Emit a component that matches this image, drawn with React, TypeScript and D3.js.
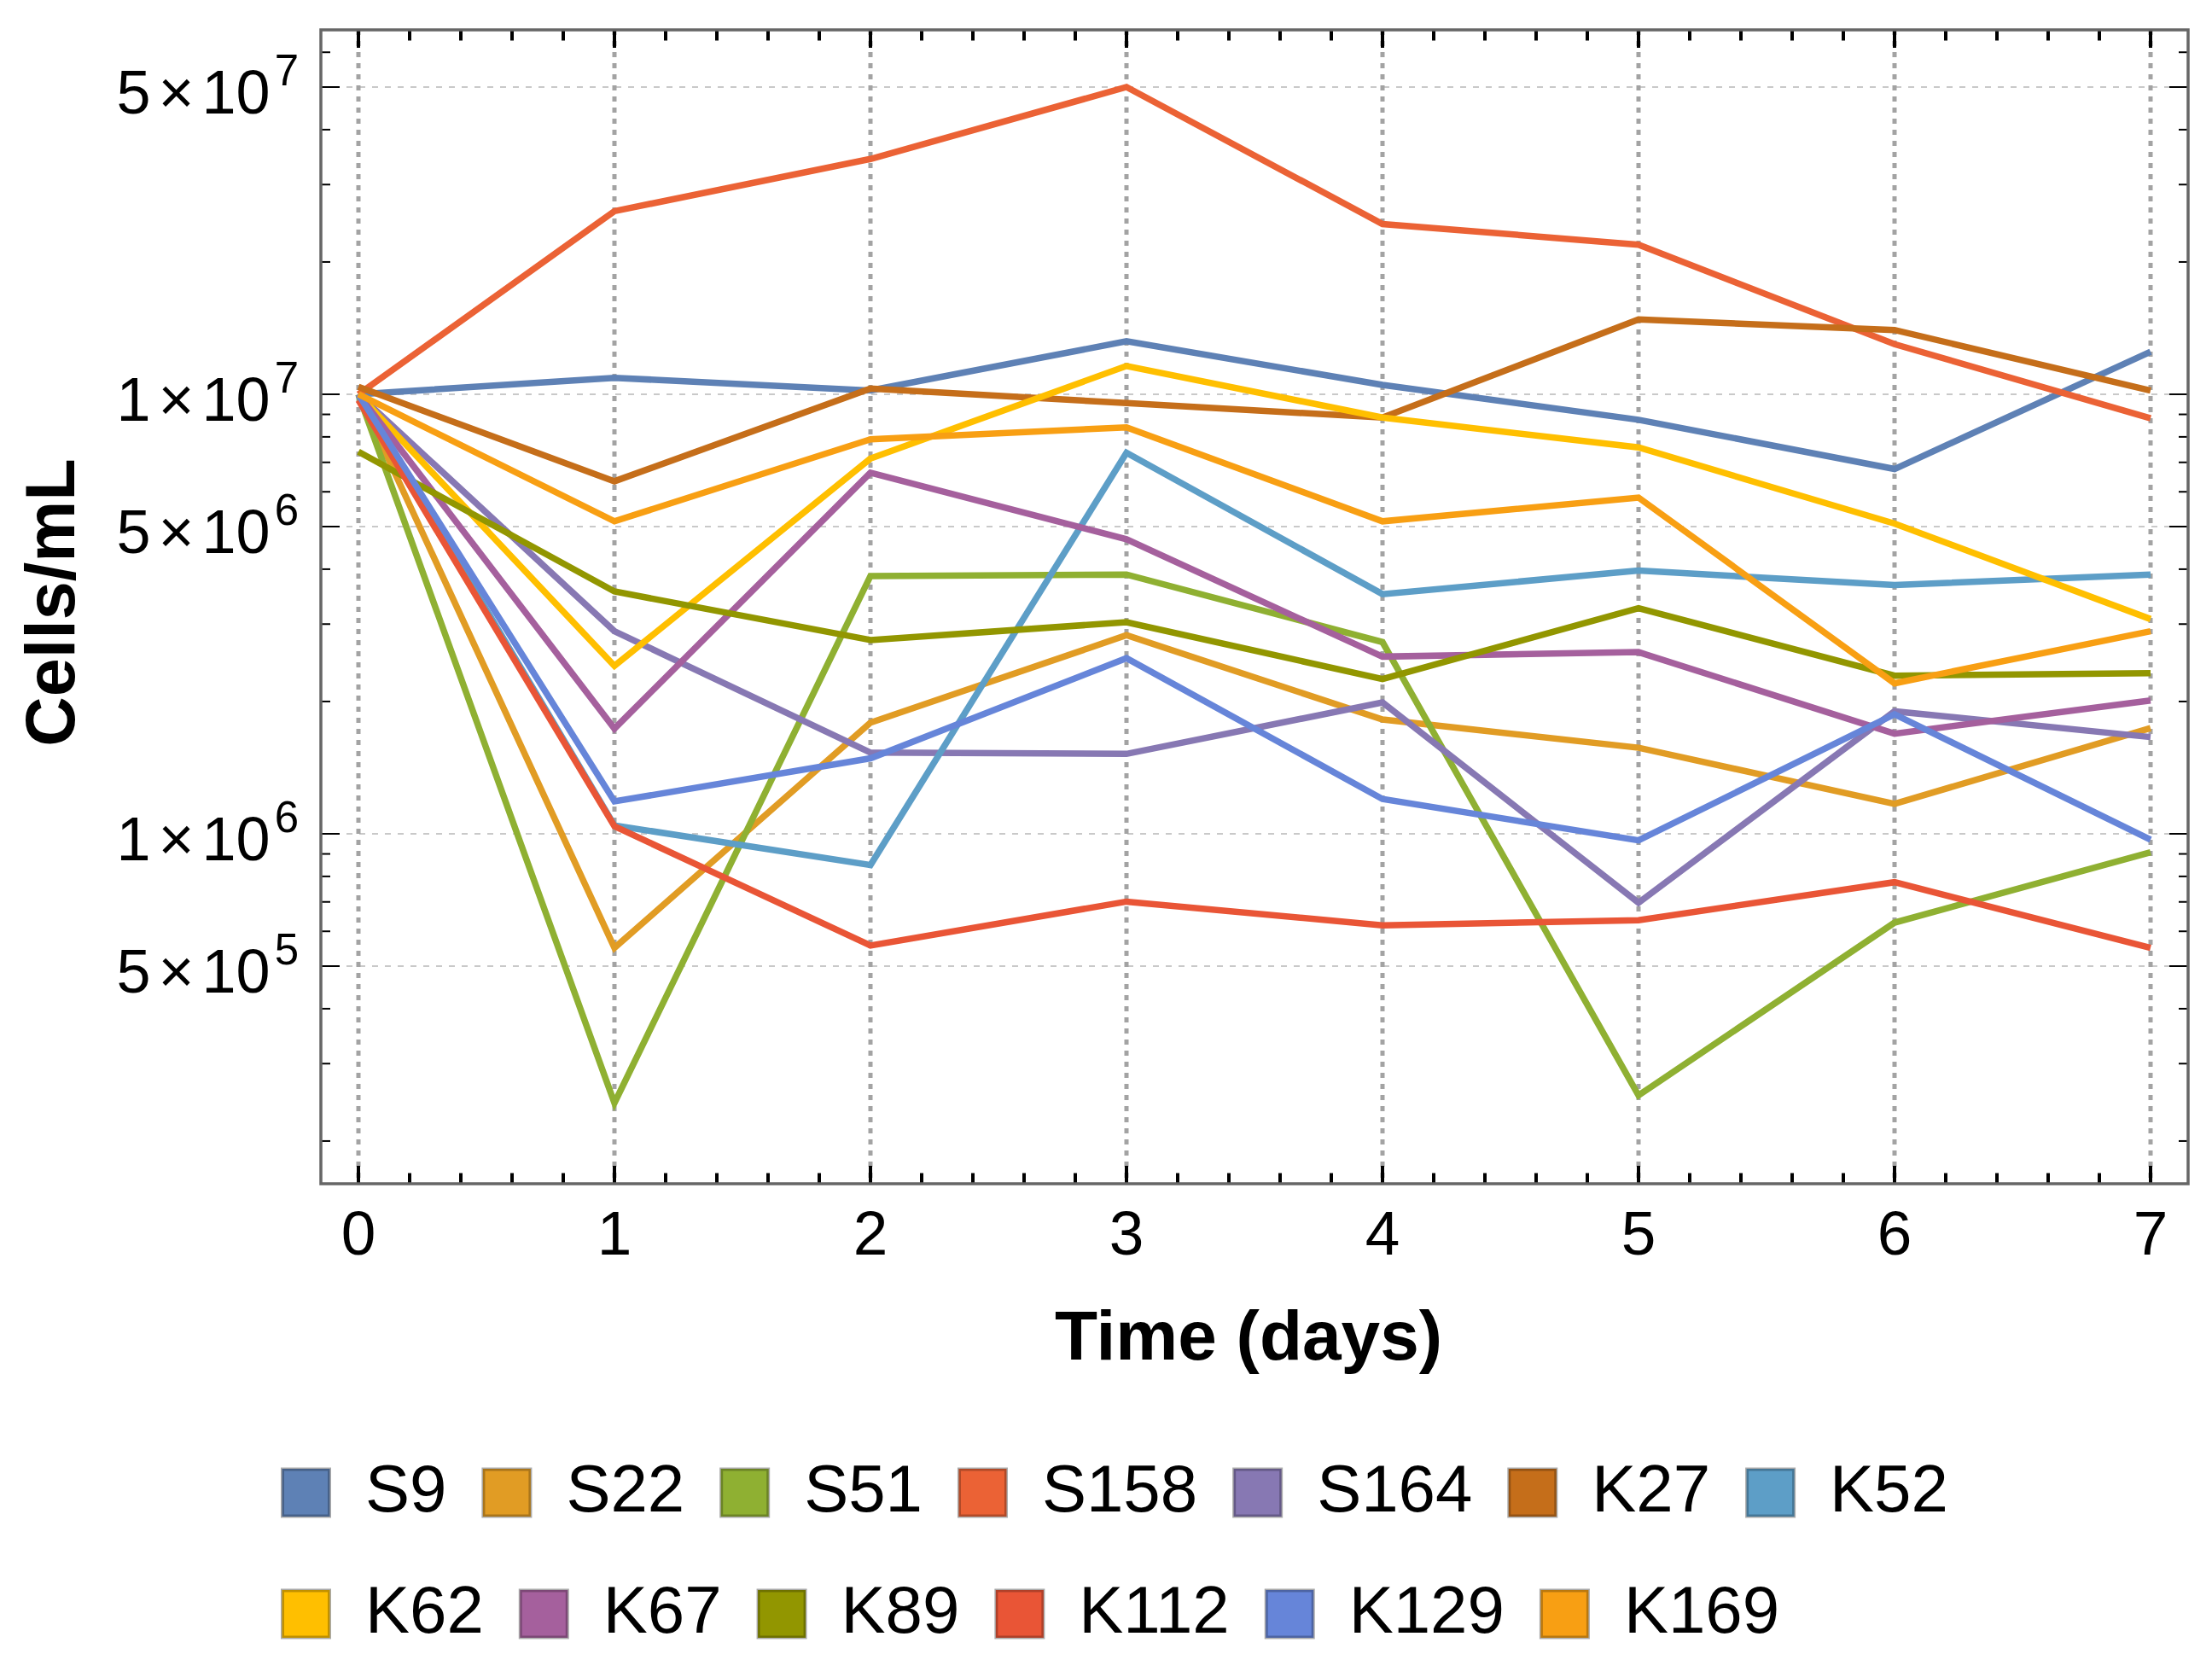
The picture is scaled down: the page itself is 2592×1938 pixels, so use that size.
import React, { useMemo } from 'react';
import * as d3 from 'd3';

const days = [0, 1, 2, 3, 4, 5, 6, 7];

const seriesNames = ['S9', 'S22', 'S51', 'S158', 'S164', 'K27', 'K52', 'K62', 'K67', 'K89', 'K112', 'K129', 'K169'];
const seriesColors = ['#5E81B5', '#E19C24', '#8FB032', '#EB6235', '#8778B3', '#C56E1A', '#5D9EC7', '#FFBF00', '#A5609D', '#929600', '#E95536', '#6685D9', '#F89F13'];

const S9 = [1.0e7, 1.09e7, 1.02e7, 1.32e7, 1.05e7, 8.75e6, 6.76e6, 1.25e7];
const S22 = [1.0e7, 5.5e5, 1.79e6, 2.83e6, 1.82e6, 1.57e6, 1.17e6, 1.74e6];
const S51 = [1.0e7, 2.44e5, 3.86e6, 3.89e6, 2.73e6, 2.54e5, 6.28e5, 9.08e5];
const S158 = [1.0e7, 2.61e7, 3.43e7, 5.0e7, 2.44e7, 2.19e7, 1.3e7, 8.82e6];
const S164 = [1.0e7, 2.89e6, 1.53e6, 1.52e6, 1.99e6, 6.97e5, 1.9e6, 1.66e6];
const K27 = [1.04e7, 6.34e6, 1.03e7, 9.55e6, 8.85e6, 1.48e7, 1.4e7, 1.02e7];
const K52 = [1.0e7, 1.045e6, 8.49e5, 7.36e6, 3.51e6, 3.97e6, 3.68e6, 3.89e6];
const K62 = [1.0e7, 2.41e6, 7.14e6, 1.16e7, 8.85e6, 7.57e6, 5.08e6, 3.08e6];
const K67 = [1.0e7, 1.735e6, 6.63e6, 4.68e6, 2.53e6, 2.59e6, 1.69e6, 2.01e6];
const K89 = [7.4e6, 3.56e6, 2.76e6, 3.03e6, 2.25e6, 3.26e6, 2.29e6, 2.32e6];
const K112 = [9.7e6, 1.04e6, 5.57e5, 7.01e5, 6.19e5, 6.36e5, 7.76e5, 5.5e5];
const K129 = [1.0e7, 1.185e6, 1.485e6, 2.51e6, 1.2e6, 9.66e5, 1.87e6, 9.7e5];
const K169 = [1.0e7, 5.14e6, 7.9e6, 8.41e6, 5.14e6, 5.82e6, 2.2e6, 2.89e6];

const seriesValues = [S9, S22, S51, S158, S164, K27, K52, K62, K67, K89, K112, K129, K169];

const yLabelTicks = [5e5, 1e6, 5e6, 1e7, 5e7];
const legendRows = [
  ['S9', 'S22', 'S51', 'S158', 'S164', 'K27', 'K52'],
  ['K62', 'K67', 'K89', 'K112', 'K129', 'K169'],
];

const W = 2592;
const H = 1938;
const frame = { left: 376, right: 2564, top: 35, bottom: 1387 };
const FONT = "'Liberation Sans', Arial, sans-serif";

const x = d3.scaleLinear().domain([0, 7]).range([420, 2520]);
const y = d3.scaleLog().domain([5e5, 5e7]).range([1132, 102]);

const App = () => {
  const line = d3.line<number>()
    .x((_, i) => x(days[i]))
    .y(d => y(d));

  const yAll = y.copy().domain([y.invert(frame.bottom), y.invert(frame.top)]).ticks();
  const yMinor = yAll.filter(v => !yLabelTicks.some(t => Math.abs(t - v) / t < 1e-6));
  const xMinor = d3.range(0, 7.001, 0.2).filter(v => Math.abs(v - Math.round(v)) > 1e-6);

  const legendItems = useMemo(() => {
    const ctx = document.createElement('canvas').getContext('2d');
    const fs = 78;
    if (ctx) ctx.font = `${fs}px ${FONT}`;
    const items: any[] = [];
    legendRows.forEach((row, r) => {
      let cx = 329;
      const cy = r === 0 ? 1749 : 1891;
      row.forEach(name => {
        const idx = seriesNames.indexOf(name);
        const w = ctx ? ctx.measureText(name).width : name.length * 40;
        items.push({ name, color: seriesColors[idx], x: cx, cy });
        cx += 59 + 40 + w + 41;
      });
    });
    return items;
  }, []);

  const fmtMant = (v: number) => {
    const e = Math.floor(Math.log10(v) + 1e-9);
    return { m: Math.round(v / Math.pow(10, e)), e };
  };

  return (
    <svg width={W} height={H} style={{ position: 'absolute', left: 0, top: 0, background: '#fff' }} fontFamily={FONT}>
      <rect x={0} y={0} width={W} height={H} fill="#fff" />

      {/* horizontal dashed gridlines */}
      {yLabelTicks.map(v => (
        <line key={'gh' + v} x1={frame.left} x2={frame.right} y1={y(v)} y2={y(v)}
          stroke="#b8b8b8" strokeWidth={1.6} strokeDasharray="7 8" />
      ))}
      {/* vertical dotted gridlines */}
      {days.map(d => (
        <line key={'gv' + d} x1={x(d)} x2={x(d)} y1={frame.top} y2={frame.bottom}
          stroke="#a3a3a3" strokeWidth={5} strokeDasharray="6 7" />
      ))}

      {/* data lines */}
      {seriesValues.map((vals, i) => (
        <path key={seriesNames[i]} d={line(vals) || ''} fill="none"
          stroke={seriesColors[i]} strokeWidth={7.5} strokeLinejoin="miter" />
      ))}

      {/* x ticks bottom & top */}
      {days.map(d => (
        <g key={'xt' + d}>
          <line x1={x(d)} x2={x(d)} y1={frame.bottom} y2={frame.bottom - 21} stroke="#000" strokeWidth={4} />
          <line x1={x(d)} x2={x(d)} y1={frame.top} y2={frame.top + 21} stroke="#000" strokeWidth={4} />
          <text x={x(d)} y={1470} fontSize={73} textAnchor="middle" fill="#000">{d}</text>
        </g>
      ))}
      {xMinor.map(d => (
        <g key={'xm' + d}>
          <line x1={x(d)} x2={x(d)} y1={frame.bottom} y2={frame.bottom - 12.5} stroke="#000" strokeWidth={4} />
          <line x1={x(d)} x2={x(d)} y1={frame.top} y2={frame.top + 12.5} stroke="#000" strokeWidth={4} />
        </g>
      ))}

      {/* y ticks left & right */}
      {yLabelTicks.map(v => {
        const { m, e } = fmtMant(v);
        return (
          <g key={'yt' + v}>
            <line x1={frame.left} x2={frame.left + 22} y1={y(v)} y2={y(v)} stroke="#000" strokeWidth={2} />
            <line x1={frame.right} x2={frame.right - 22} y1={y(v)} y2={y(v)} stroke="#000" strokeWidth={2} />
            <text x={350} y={y(v) + 31} fontSize={72} textAnchor="end" fill="#000">
              {`${m}`}
              <tspan dx={9}>{'\u00D7'}</tspan>
              <tspan dx={9}>10</tspan>
              <tspan dy={-33} dx={5} fontSize={51}>{e}</tspan>
            </text>
          </g>
        );
      })}
      {yMinor.map(v => (
        <g key={'ym' + v}>
          <line x1={frame.left} x2={frame.left + 11} y1={y(v)} y2={y(v)} stroke="#000" strokeWidth={2} />
          <line x1={frame.right} x2={frame.right - 11} y1={y(v)} y2={y(v)} stroke="#000" strokeWidth={2} />
        </g>
      ))}

      {/* frame */}
      <rect x={frame.left} y={frame.top} width={frame.right - frame.left} height={frame.bottom - frame.top}
        fill="none" stroke="#666666" strokeWidth={3.5} />

      {/* axis titles */}
      <text x={1463} y={1593} fontSize={82} fontWeight="bold" textAnchor="middle" fill="#000">Time (days)</text>
      <text transform="translate(87,706) rotate(-90)" fontSize={81} fontWeight="bold" textAnchor="middle" fill="#000">Cells/mL</text>

      {/* legend */}
      {legendItems.map(it => {
        const c = d3.color(it.color);
        const dark = c ? c.darker(0.8).formatHex() : it.color;
        return (
          <g key={'lg' + it.name}>
            <rect x={it.x} y={it.cy - 29.5} width={59} height={59} fill="#ababab" />
            <rect x={it.x + 1.5} y={it.cy - 28} width={56} height={56} fill={dark} />
            <rect x={it.x + 4} y={it.cy - 25.5} width={51} height={51} fill={it.color} />
            <text x={it.x + 59 + 40} y={it.cy + 22} fontSize={78} fill="#000">{it.name}</text>
          </g>
        );
      })}
    </svg>
  );
};

export default App;
